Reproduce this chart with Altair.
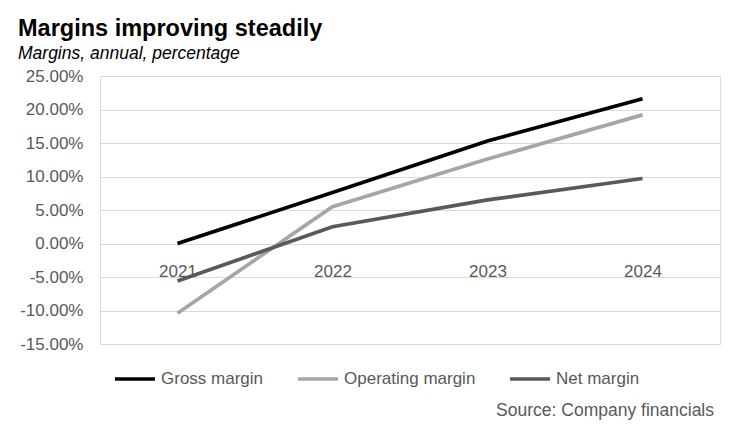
import altair as alt
import pandas as pd

years = ["2021", "2022", "2023", "2024"]
gross = [0.0, 7.6, 15.3, 21.6]
operating = [-10.4, 5.5, 12.6, 19.2]
net = [-5.6, 2.5, 6.5, 9.7]
series = ["Gross margin", "Operating margin", "Net margin"]
colors = ["#000000", "#a6a6a6", "#595959"]
y_ticks = [-0.15, -0.10, -0.05, 0.0, 0.05, 0.10, 0.15, 0.20, 0.25]
title_text = "Margins improving steadily"
subtitle_text = "Margins, annual, percentage"
source_text = ["Source: Company financials"]

rows = []
for name, vals in zip(series, [gross, operating, net]):
    for yr, v in zip(years, vals):
        rows.append({"year": yr, "value": v / 100.0, "series": name})
df = pd.DataFrame(rows)

FONT = "Liberation Sans"
GREY = "#595959"

lines = alt.Chart(df).mark_line(strokeWidth=3.7).encode(
    x=alt.X("year:O", sort=years, title=None,
            scale=alt.Scale(type="point", padding=0.5),
            axis=alt.Axis(offset=-100, labelAngle=0, domain=False, ticks=False,
                          grid=False, labelFontSize=17, labelColor=GREY,
                          labelFont=FONT, labelPadding=19)),
    y=alt.Y("value:Q", title=None,
            scale=alt.Scale(domain=[-0.15, 0.25], nice=False, zero=False),
            axis=alt.Axis(values=y_ticks, domain=False, ticks=False,
                          labelExpr="replace(format(datum.value, '.2%'), '\u2212', '-')",
                          labelFontSize=17, labelColor=GREY, labelFont=FONT,
                          labelPadding=17, gridColor="#d9d9d9", gridWidth=1)),
    color=alt.Color("series:N",
                    scale=alt.Scale(domain=series, range=colors),
                    legend=alt.Legend(orient="none", legendX=13, legendY=281,
                                      direction="horizontal", title=None,
                                      symbolType="stroke", symbolSize=1600,
                                      symbolStrokeWidth=3.7, labelFontSize=17,
                                      labelColor=GREY, labelFont=FONT,
                                      labelOffset=4, columnPadding=26)),
    order=alt.Order("year:O"),
)

source = alt.Chart(pd.DataFrame({"t": source_text})).mark_text(
    align="right", baseline="middle", fontSize=17.5, font=FONT, color=GREY
).encode(text="t:N", x=alt.value(614), y=alt.value(335))

chart = alt.layer(lines, source).properties(
    width=620,
    height=268,
    padding={"left": 92, "top": 68, "right": 14, "bottom": 79},
    autosize=alt.AutoSizeParams(type="none"),
    title=alt.TitleParams(
        text=title_text, subtitle=subtitle_text, anchor="start", frame="group",
        dx=-82, offset=5, font=FONT, fontSize=23.5, fontWeight="bold",
        color="#000000", subtitleFont=FONT, subtitleFontSize=17.5,
        subtitleFontStyle="italic", subtitleColor="#000000", subtitlePadding=4),
).configure_view(stroke=None).configure(background="white")

chart.save("out.html", embed_options={"renderer": "svg", "actions": False})
